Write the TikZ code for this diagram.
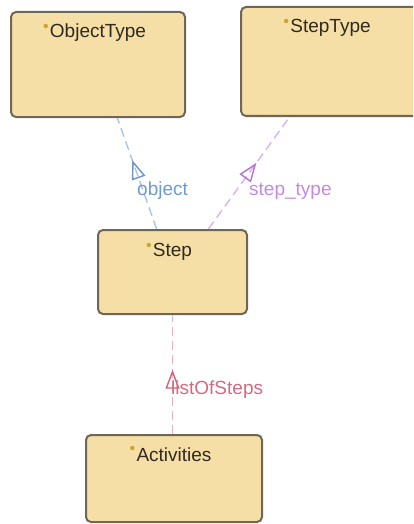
\documentclass[tikz,border=0pt]{standalone}
\usepackage{fontspec}
\setmainfont{Liberation Sans}
\usetikzlibrary{arrows.meta,decorations.markings,calc}

\definecolor{boxfill}{HTML}{F6DFA6}
\definecolor{boxline}{HTML}{6E6656}
\definecolor{titletext}{HTML}{2F2A20}
\definecolor{keydot}{HTML}{C9A636}
\definecolor{objline}{HTML}{A9C5E2}
\definecolor{objtip}{HTML}{6A94CA}
\definecolor{objtext}{HTML}{6B9BD0}
\definecolor{stline}{HTML}{D9B2EC}
\definecolor{sttip}{HTML}{B274D4}
\definecolor{sttext}{HTML}{C48AE0}
\definecolor{lsline}{HTML}{EBB1BD}
\definecolor{lstip}{HTML}{D0627A}
\definecolor{lstext}{HTML}{D46A80}

\tikzset{
  classbox/.style={draw=boxline, fill=boxfill, line width=2pt,
    rounded corners=5pt, inner sep=0pt},
  classtitle/.style={font=\fontsize{19}{21}\selectfont, text=titletext,
    inner sep=0pt, anchor=center},
  keymark/.style={fill=keydot, draw=none, circle, inner sep=0pt,
    minimum size=4.5pt},
  reflabel/.style={font=\fontsize{19}{21}\selectfont, inner sep=0pt,
    anchor=west},
  reference/.style n args={3}{draw=#1, line width=1.4pt,
    dash pattern=on 9pt off 5pt, postaction={decorate},
    decoration={markings, mark=at position #3 with
      {\arrow{Triangle[open, color=#2, line width=1.4pt,
        length=19pt, width=14pt]}}}}
}

\begin{document}
\begin{tikzpicture}[x=1pt, y=-1pt]
  \useasboundingbox (0,0) rectangle (413,524);
  \clip (0,0) rectangle (413,524);

  % classes
  \node[classbox, minimum width=174pt, minimum height=105pt] (ot) at (98,64.5) {};
  \node[classbox, minimum width=179pt, minimum height=109pt] (stt) at (330.5,61.5) {};
  \node[classbox, minimum width=149pt, minimum height=84pt] (st) at (172.5,272) {};
  \node[classbox, minimum width=176pt, minimum height=87pt] (act) at (174,478.5) {};

  % class names with key markers
  \node[classtitle] (otname) at ($(ot.north)+(0,22)$) {ObjectType};
  \node[classtitle] (sttname) at ($(stt.north)+(0,22)$ -| 331,0) {StepType};
  \node[classtitle] (stname) at ($(st.north)+(0,23)$) {Step};
  \node[classtitle] (actname) at ($(act.north)+(0,21)$) {Activities};
  \node[keymark] (otkey) at ($(otname.west)+(-4,-7)$) {};
  \node[keymark] (sttkey) at ($(sttname.west)+(-4,-7)$) {};
  \node[keymark] (stkey) at ($(stname.west)+(-4,-7)$) {};
  \node[keymark] (actkey) at ($(actname.west)+(-4,-7)$) {};

  % attachment points on the class borders
  \coordinate (stobj) at ($(st.north west)!0.395!(st.north east)$);
  \coordinate (otend) at ($(ot.south west)!0.61!(ot.south east)$);
  \coordinate (stst) at ($(st.north west)!0.738!(st.north east)$);
  \coordinate (sttend) at ($(stt.south west)!0.274!(stt.south east)$);

  % references
  \draw[reference={objline}{objtip}{0.62}] (stobj) -- (otend);
  \draw[reference={stline}{sttip}{0.59}] (stst) -- (sttend);
  \draw[reference={lsline}{lstip}{0.54}] (st.south |- act.north) -- (st.south);

  % reference names
  \node[reflabel, text=objtext] (objlabel) at (137,191) {object};
  \node[reflabel, text=sttext] (stlabel) at (249,191) {step\_type};
  \node[reflabel, text=lstext] (lslabel) at (171,390) {listOfSteps};
\end{tikzpicture}
\end{document}
